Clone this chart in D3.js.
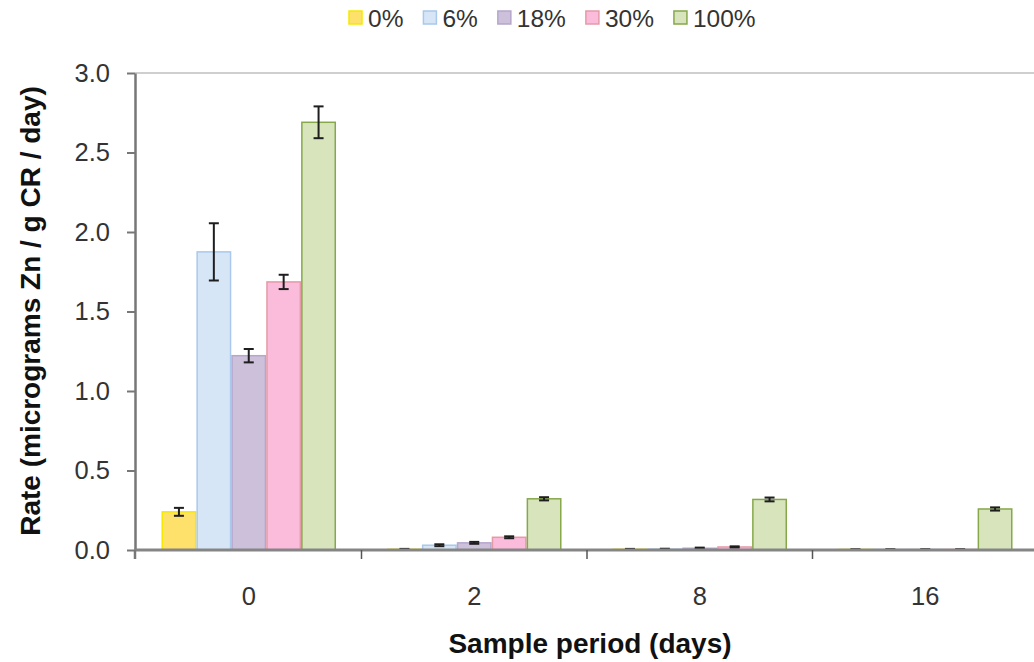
<!DOCTYPE html>
<html>
<head>
<meta charset="utf-8">
<script src="https://cdn.jsdelivr.net/npm/d3@7"></script>
<style>
  body { margin: 0; background: #fff; }
  svg { display: block; font-family: "Liberation Sans", Arial, sans-serif; }
</style>
</head>
<body>
<div id="chart"></div>
<script>
const groups = ["0", "2", "8", "16"];
const series = ["0%", "6%", "18%", "30%", "100%"];

// rate per sample period, one array per concentration
const rate0 = [0.24, 0.004, 0.004, 0.003];
const rate6 = [1.875, 0.03, 0.005, 0.003];
const rate18 = [1.222, 0.045, 0.011, 0.003];
const rate30 = [1.686, 0.08, 0.019, 0.003];
const rate100 = [2.69, 0.322, 0.318, 0.258];

// standard errors
const err0 = [0.025, 0.003, 0.003, 0.002];
const err6 = [0.18, 0.006, 0.003, 0.002];
const err18 = [0.042, 0.006, 0.004, 0.002];
const err30 = [0.045, 0.006, 0.004, 0.002];
const err100 = [0.1, 0.01, 0.012, 0.01];

const yTicks = [0, 0.5, 1, 1.5, 2, 2.5, 3];

const fills = ["#fde16a", "#d7e6f6", "#ccc0da", "#fbbbdb", "#d7e4bc"];
const strokes = ["#f5e900", "#a9c8ec", "#b5a6cb", "#e59aa8", "#86a84a"];

const allRates = [rate0, rate6, rate18, rate30, rate100];
const allErrs = [err0, err6, err18, err30, err100];

const rows = [];
series.forEach((s, i) => {
  groups.forEach((g, j) => {
    rows.push({ series: s, si: i, group: g, value: allRates[i][j], err: allErrs[i][j] });
  });
});

const W = 1034, H = 662;
const svg = d3.select("#chart").append("svg")
  .attr("width", W)
  .attr("height", H);

const x0 = d3.scaleBand().domain(groups).range([136, 1038]).padding(0);
const x1 = d3.scaleBand().domain(series).range([0, x0.bandwidth()])
  .paddingInner(0).paddingOuter(0.73);
const y = d3.scaleLinear().domain([0, 3]).range([550, 73]);

// top gridline at max
svg.append("line")
  .attr("x1", 135).attr("x2", W)
  .attr("y1", y(3)).attr("y2", y(3))
  .attr("stroke", "#cfcfcf").attr("stroke-width", 2);

// bars
svg.append("g").selectAll("rect").data(rows).join("rect")
  .attr("x", d => x0(d.group) + x1(d.series) + 0.75)
  .attr("width", x1.bandwidth() - 1.5)
  .attr("y", d => y(d.value))
  .attr("height", d => y(0) - y(d.value))
  .attr("fill", d => fills[d.si])
  .attr("stroke", d => strokes[d.si])
  .attr("stroke-width", 1.5);

// error bars
const eb = svg.append("g").attr("stroke", "#1e1e1e").attr("stroke-width", 2);
rows.forEach(d => {
  const cx = x0(d.group) + x1(d.series) + x1.bandwidth() / 2;
  const top = y(d.value + d.err), bot = y(d.value - d.err);
  eb.append("line").attr("x1", cx).attr("x2", cx).attr("y1", top).attr("y2", bot);
  eb.append("line").attr("x1", cx - 5).attr("x2", cx + 5).attr("y1", top).attr("y2", top);
  eb.append("line").attr("x1", cx - 5).attr("x2", cx + 5).attr("y1", bot).attr("y2", bot);
});

// y axis
const yAxis = svg.append("g")
  .attr("transform", "translate(135,0)")
  .call(d3.axisLeft(y).tickValues(yTicks).tickFormat(d3.format(".1f"))
    .tickSize(8).tickSizeOuter(0).tickPadding(17));
yAxis.select(".domain").attr("stroke", "#777").attr("stroke-width", 2.5);
yAxis.selectAll(".tick line").attr("stroke", "#777").attr("stroke-width", 2);
yAxis.selectAll(".tick text")
  .attr("fill", "#333")
  .style("font-size", "25.5px");

// x axis: labels centered on groups, ticks at group boundaries
const xAxis = svg.append("g")
  .attr("transform", `translate(0,${y(0)})`)
  .call(d3.axisBottom(x0).tickSize(0).tickPadding(37));
xAxis.select(".domain").remove();
xAxis.selectAll(".tick text")
  .attr("fill", "#333")
  .style("font-size", "25.5px");

svg.append("line")
  .attr("x1", 134).attr("x2", W)
  .attr("y1", y(0)).attr("y2", y(0))
  .attr("stroke", "#858585").attr("stroke-width", 3);

const bounds = groups.map(g => x0(g)).concat([x0.range()[1]]);
svg.append("g").selectAll("line").data(bounds.slice(1)).join("line")
  .attr("x1", d => d).attr("x2", d => d)
  .attr("y1", y(0)).attr("y2", y(0) + 9)
  .attr("stroke", "#555").attr("stroke-width", 1.5);
svg.append("line")
  .attr("x1", 135).attr("x2", 135)
  .attr("y1", y(0)).attr("y2", y(0) + 9)
  .attr("stroke", "#777").attr("stroke-width", 2.5);

// axis titles
svg.append("text")
  .attr("x", 590).attr("y", 653)
  .attr("text-anchor", "middle")
  .style("font-size", "28px").style("font-weight", "bold")
  .attr("fill", "#111")
  .text("Sample period (days)");

svg.append("text")
  .attr("transform", "translate(40,311) rotate(-90)")
  .attr("text-anchor", "middle")
  .style("font-size", "28px").style("font-weight", "bold")
  .attr("fill", "#111")
  .text("Rate (micrograms Zn / g CR / day)");

// legend
const legend = svg.append("g");
let lx = 348;
series.forEach((s, i) => {
  legend.append("rect")
    .attr("x", lx + 1).attr("y", 11)
    .attr("width", 13).attr("height", 13)
    .attr("fill", fills[i])
    .attr("stroke", strokes[i]).attr("stroke-width", 1.5);
  const t = legend.append("text")
    .attr("x", lx + 20).attr("y", 27)
    .attr("fill", "#333")
    .style("font-size", "24.5px")
    .text(s);
  lx += 20 + t.node().getComputedTextLength() + 19;
});
</script>
</body>
</html>
